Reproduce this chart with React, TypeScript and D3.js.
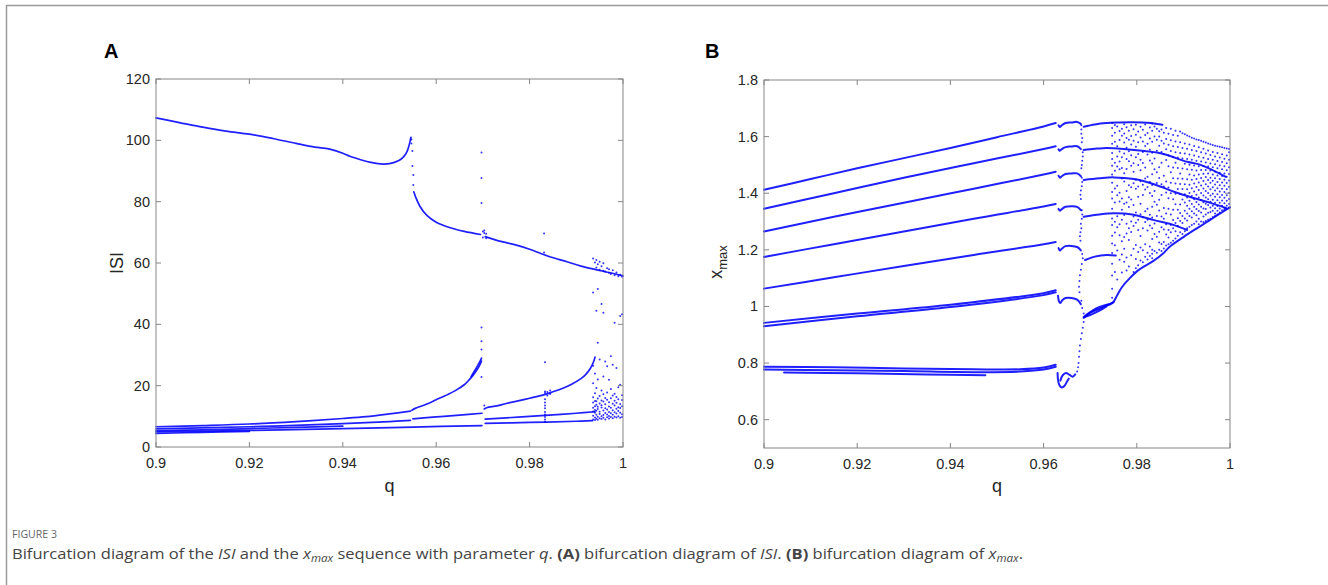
import React from "react";
import * as d3 from "d3";

type P = [number, number];
type Col = [number, number[]];

// ---------- ticks ----------
const qTicks = [0.9, 0.92, 0.94, 0.96, 0.98, 1];
const qTickLabels = ["0.9", "0.92", "0.94", "0.96", "0.98", "1"];
const isiTicks = [0, 20, 40, 60, 80, 100, 120];
const isiTickLabels = ["0", "20", "40", "60", "80", "100", "120"];
const xmaxTicks = [0.6, 0.8, 1, 1.2, 1.4, 1.6, 1.8];
const xmaxTickLabels = ["0.6", "0.8", "1", "1.2", "1.4", "1.6", "1.8"];

// ---------- Panel A : ISI vs q ----------
const isiUpper: P[] = [[0.9, 107.3], [0.905, 105.8], [0.91, 104.3], [0.915, 103.0], [0.92, 102.0], [0.925, 100.6], [0.93, 99.0], [0.934, 97.8], [0.937, 97.2], [0.94, 95.8], [0.9415, 94.8], [0.944, 93.6], [0.946, 92.8], [0.948, 92.3], [0.95, 92.4], [0.952, 93.4], [0.953, 94.6], [0.9538, 96.5], [0.9543, 99.0], [0.9546, 101.0]];
const isiDescent: P[] = [[0.9552, 83.2], [0.9556, 81.5], [0.9565, 78.5], [0.958, 75.5], [0.96, 73.3], [0.963, 71.5], [0.966, 70.3], [0.9695, 69.3]];
const isiDescent2: P[] = [[0.9705, 68.6], [0.973, 67.4], [0.977, 65.9], [0.98, 64.5], [0.984, 62.2], [0.988, 60.4], [0.991, 59.0], [0.994, 57.9], [0.997, 56.9], [1.0, 55.8]];
const isiLow1a: P[] = [[0.9, 6.6], [0.91, 7.0], [0.92, 7.5], [0.93, 8.3], [0.94, 9.3], [0.945, 9.9], [0.95, 10.8], [0.9545, 11.7]];
const isiLow1b: P[] = [[0.9548, 12.0], [0.9555, 12.6], [0.958, 14.0], [0.96, 15.4], [0.962, 16.8], [0.964, 18.3], [0.966, 20.3], [0.967, 21.8], [0.968, 23.6], [0.969, 25.8], [0.9697, 28.0]];
const isiLow1fan: P[] = [[0.9675, 23.0], [0.9685, 25.5], [0.9692, 27.4], [0.9697, 29.0]];
const isiLow1c: P[] = [[0.9703, 12.4], [0.9708, 12.8], [0.973, 13.4], [0.975, 14.2], [0.978, 15.2], [0.98, 15.9], [0.983, 17.0], [0.985, 18.0], [0.987, 19.1], [0.989, 20.5], [0.991, 22.3], [0.992, 23.6], [0.993, 25.6], [0.9937, 27.8], [0.994, 29.3]];
const isiLow2a: P[] = [[0.9, 5.9], [0.92, 6.6], [0.94, 7.6], [0.95, 8.3], [0.9545, 8.7]];
const isiLow2b: P[] = [[0.955, 9.2], [0.96, 9.8], [0.965, 10.4], [0.9698, 11.0]];
const isiLow2c: P[] = [[0.9705, 9.1], [0.975, 9.5], [0.98, 10.0], [0.985, 10.5], [0.99, 11.0], [0.994, 11.5]];
const isiLow3a: P[] = [[0.9, 4.9], [0.92, 5.4], [0.94, 6.0], [0.955, 6.5], [0.9698, 7.0]];
const isiLow3b: P[] = [[0.9705, 7.7], [0.98, 8.0], [0.99, 8.4], [0.9935, 8.6]];
const isiLow4: P[] = [[0.9, 5.3], [0.91, 5.6], [0.92, 6.0], [0.93, 6.4], [0.94, 6.8]];
const isiLow5: P[] = [[0.9, 4.4], [0.91, 4.8], [0.92, 5.1]];
const isiBranches = [isiUpper, isiDescent, isiDescent2, isiLow1a, isiLow1b, isiLow1fan, isiLow1c, isiLow2a, isiLow2b, isiLow2c, isiLow3a, isiLow3b, isiLow4, isiLow5];

const isiDots: Col[] = [
  [0.9547, [100.3, 99.0]],
  [0.9549, [96.5, 91.6]],
  [0.9551, [88.7, 85.4]],
  [0.9697, [96.0, 87.7, 79.6, 39.0, 34.5, 31.8, 22.8]],
  [0.9700, [70.3, 68.3]],
  [0.9703, [69.8, 70.6, 13.5]],
  [0.9707, [68.1, 69.5]],
  [0.9831, [69.6, 63.4]],
  [0.9833, [8.2, 9.0, 9.8, 10.6, 11.4, 12.6, 13.5, 14.5, 15.6, 17.6, 18.1, 27.6]],
  [0.9838, [16.8, 17.9]],
  [0.9844, [17.3, 18.4]],
  [0.9936, [9.0, 10.2, 11.6, 12.8, 14.5, 16.2, 20.8, 26.5, 50.4, 61.5]],
  [0.9940, [8.8, 9.6, 11.2, 12.1, 13.3, 15.0, 17.5, 24.0, 60.2]],
  [0.9943, [9.2, 10.5, 11.8, 13.8, 14.9, 19.2, 44.4, 58.5, 61.0]],
  [0.9946, [8.9, 9.9, 12.4, 13.1, 15.8, 22.0, 34.0, 51.5, 59.6]],
  [0.9950, [9.4, 10.8, 11.5, 14.2, 16.6, 28.5, 57.8, 60.4]],
  [0.9954, [9.1, 10.0, 12.9, 13.6, 15.2, 18.4, 46.6, 58.9]],
  [0.9958, [9.5, 10.4, 11.9, 14.8, 17.2, 23.0, 43.8, 57.5, 59.9]],
  [0.9962, [9.0, 11.1, 12.6, 13.9, 16.0, 27.9, 57.2]],
  [0.9966, [9.7, 10.6, 12.2, 15.4, 17.8, 26.3, 58.3]],
  [0.9970, [9.3, 10.1, 11.4, 13.2, 14.6, 21.9, 56.8, 58.0]],
  [0.9974, [9.8, 11.0, 12.8, 15.9, 18.9, 29.6, 56.4]],
  [0.9978, [9.4, 10.5, 12.0, 14.1, 16.8, 26.8, 57.6]],
  [0.9982, [9.9, 11.3, 13.5, 15.1, 17.4, 40.5, 56.0]],
  [0.9986, [9.6, 10.9, 12.5, 14.4, 16.3, 25.8, 56.9]],
  [0.9990, [10.0, 11.7, 13.0, 15.6, 19.5, 55.7]],
  [0.9994, [9.5, 11.2, 12.7, 14.0, 20.3, 42.7, 56.2]],
  [0.9998, [9.8, 10.7, 13.3, 15.3, 16.9, 43.3, 55.5]],
];

// ---------- Panel B : x_max vs q ----------
const xmaxB1: P[] = [[0.9, 1.412], [0.91, 1.45], [0.92, 1.488], [0.93, 1.524], [0.94, 1.56], [0.95, 1.598], [0.96, 1.636], [0.9626, 1.648]];
const xmaxB2: P[] = [[0.9, 1.345], [0.915, 1.400], [0.93, 1.455], [0.945, 1.506], [0.96, 1.556], [0.9626, 1.566]];
const xmaxB3: P[] = [[0.9, 1.265], [0.915, 1.317], [0.93, 1.366], [0.945, 1.416], [0.96, 1.466], [0.9626, 1.476]];
const xmaxB4: P[] = [[0.9, 1.175], [0.915, 1.220], [0.93, 1.265], [0.945, 1.310], [0.96, 1.353], [0.9626, 1.362]];
const xmaxB5: P[] = [[0.9, 1.063], [0.915, 1.103], [0.93, 1.143], [0.945, 1.182], [0.96, 1.220], [0.9626, 1.228]];
const xmaxB6a: P[] = [[0.9, 0.942], [0.92, 0.975], [0.94, 1.006], [0.96, 1.047], [0.9626, 1.057]];
const xmaxB6b: P[] = [[0.9, 0.930], [0.92, 0.965], [0.94, 0.998], [0.96, 1.040], [0.9626, 1.050]];
const xmaxB7a: P[] = [[0.9, 0.787], [0.915, 0.785], [0.93, 0.781], [0.945, 0.778], [0.955, 0.778], [0.96, 0.784], [0.9626, 0.794]];
const xmaxB7b: P[] = [[0.9, 0.777], [0.915, 0.775], [0.93, 0.772], [0.945, 0.768], [0.955, 0.770], [0.96, 0.777], [0.9626, 0.787]];
const xmaxB7c: P[] = [[0.9043, 0.767], [0.92, 0.764], [0.935, 0.760], [0.9475, 0.757]];
const xmaxHook1: P[] = [[0.9632, 1.640], [0.9635, 1.634], [0.9639, 1.640], [0.9647, 1.648], [0.966, 1.650], [0.9672, 1.652], [0.968, 1.645]];
const xmaxHook2: P[] = [[0.9632, 1.555], [0.9635, 1.550], [0.9639, 1.556], [0.9647, 1.563], [0.966, 1.565], [0.9672, 1.566], [0.968, 1.556]];
const xmaxHook3: P[] = [[0.9632, 1.462], [0.9635, 1.455], [0.9639, 1.460], [0.9647, 1.468], [0.966, 1.470], [0.9672, 1.470], [0.968, 1.460]];
const xmaxHook4: P[] = [[0.9632, 1.345], [0.9635, 1.338], [0.9639, 1.344], [0.9647, 1.352], [0.966, 1.354], [0.9672, 1.352], [0.968, 1.340]];
const xmaxHook5: P[] = [[0.9632, 1.206], [0.9635, 1.198], [0.9639, 1.204], [0.9647, 1.213], [0.966, 1.214], [0.9672, 1.210], [0.968, 1.198]];
const xmaxHook6: P[] = [[0.9631, 1.038], [0.9633, 1.018], [0.9636, 1.012], [0.964, 1.022], [0.9647, 1.030], [0.966, 1.030], [0.9672, 1.024], [0.968, 1.008]];
const xmaxHook7a: P[] = [[0.963, 0.765], [0.9631, 0.740], [0.9634, 0.722], [0.9639, 0.714], [0.9645, 0.720], [0.965, 0.734], [0.9654, 0.745]];
const xmaxHook7b: P[] = [[0.9636, 0.738], [0.9641, 0.757], [0.9648, 0.765], [0.9656, 0.758], [0.9662, 0.752], [0.9668, 0.760]];
const xmaxP1: P[] = [[0.9686, 1.635], [0.971, 1.643], [0.9735, 1.648], [0.976, 1.650], [0.979, 1.651], [0.983, 1.648], [0.9855, 1.642]];
const xmaxP2: P[] = [[0.9686, 1.553], [0.971, 1.557], [0.9735, 1.560], [0.9751, 1.559], [0.9794, 1.553], [0.9851, 1.541], [0.9908, 1.511], [0.9937, 1.500], [0.9991, 1.458]];
const xmaxP3: P[] = [[0.9686, 1.447], [0.972, 1.453], [0.9751, 1.456], [0.9794, 1.450], [0.9837, 1.432], [0.988, 1.405], [0.9922, 1.383], [0.996, 1.365], [0.9991, 1.348]];
const xmaxP4: P[] = [[0.9686, 1.317], [0.972, 1.325], [0.9751, 1.329], [0.979, 1.325], [0.9837, 1.305], [0.9875, 1.290], [0.9908, 1.270]];
const xmaxP5: P[] = [[0.9689, 1.164], [0.971, 1.176], [0.9735, 1.182], [0.9755, 1.180]];
const xmaxLensA: P[] = [[0.9686, 0.960], [0.970, 0.978], [0.972, 0.992], [0.9735, 1.003], [0.975, 1.015]];
const xmaxLensB: P[] = [[0.9686, 0.962], [0.970, 0.970], [0.972, 0.985], [0.9735, 1.000]];
const xmaxLensC: P[] = [[0.9688, 0.965], [0.9705, 0.985], [0.972, 0.998], [0.974, 1.008]];
const xmaxLower: P[] = [[0.9735, 1.003], [0.9748, 1.012], [0.9758, 1.040], [0.9768, 1.068], [0.9785, 1.100], [0.9805, 1.130], [0.9835, 1.160], [0.9855, 1.185], [0.987, 1.210], [0.99, 1.245], [0.9925, 1.272], [0.9955, 1.303], [0.998, 1.330], [1.0, 1.350]];
const xmaxBranches = [xmaxB1, xmaxB2, xmaxB3, xmaxB4, xmaxB5, xmaxB6a, xmaxB6b, xmaxB7a, xmaxB7b, xmaxB7c, xmaxHook1, xmaxHook2, xmaxHook3, xmaxHook4, xmaxHook5, xmaxHook6, xmaxHook7a, xmaxHook7b, xmaxP1, xmaxP2, xmaxP3, xmaxP4, xmaxP5, xmaxLensA, xmaxLensB, xmaxLensC, xmaxLower];

const xmaxDots: Col[] = [
  [0.9681, [1.640, 1.625, 1.610, 1.488, 1.276, 1.020]],
  [0.9682, [1.580, 1.500, 1.455, 1.425, 1.340, 1.310, 1.150, 0.905]],
  [0.9683, [1.595, 1.515, 1.440, 1.325, 1.185, 0.995]],
  [0.9684, [1.545, 1.530, 1.170, 0.925]],
  [0.9680, [1.410, 1.380, 1.292, 1.130, 0.885]],
  [0.9679, [1.395, 1.262, 1.232]],
  [0.9678, [1.248, 1.110, 0.862]],
  [0.9677, [1.090, 1.050, 0.842]],
  [0.9676, [1.070, 0.822]],
  [0.9675, [0.800]],
  [0.9674, [0.785]],
  [0.9672, [0.770]],
  [0.9686, [0.975, 0.945]],
  [0.9687, [0.962]],
  [0.9747, [1.648, 1.630, 1.603, 1.575, 1.542, 1.521, 1.497, 1.466, 1.437, 1.404, 1.381, 1.345, 1.311, 1.288, 1.250, 1.222, 1.189, 1.151, 1.109, 1.063, 1.031]],
  [0.9753, [1.641, 1.614, 1.582, 1.508, 1.479, 1.417, 1.367, 1.299, 1.261, 1.216, 1.122]],
  [0.9758, [1.636, 1.566, 1.530, 1.494, 1.426, 1.393, 1.319, 1.280, 1.198, 1.095]],
  [0.9763, [1.620, 1.588, 1.547, 1.512, 1.485, 1.402, 1.371, 1.290, 1.252, 1.165]],
  [0.9768, [1.628, 1.603, 1.527, 1.489, 1.452, 1.381, 1.342, 1.306, 1.230, 1.184, 1.120]],
  [0.9773, [1.644, 1.611, 1.579, 1.540, 1.471, 1.441, 1.363, 1.323, 1.245, 1.204, 1.158]],
  [0.9778, [1.633, 1.595, 1.561, 1.521, 1.486, 1.408, 1.367, 1.292, 1.258, 1.173, 1.127]],
  [0.9783, [1.621, 1.589, 1.548, 1.513, 1.428, 1.386, 1.351, 1.276, 1.235, 1.141]],
  [0.9788, [1.640, 1.602, 1.572, 1.534, 1.497, 1.421, 1.378, 1.300, 1.263, 1.181]],
  [0.9793, [1.626, 1.585, 1.506, 1.476, 1.435, 1.358, 1.318, 1.284, 1.204, 1.122]],
  [0.9798, [1.642, 1.607, 1.564, 1.527, 1.448, 1.416, 1.332, 1.296, 1.217, 1.168, 1.135]],
  [0.9803, [1.618, 1.580, 1.539, 1.500, 1.424, 1.388, 1.306, 1.270, 1.192, 1.146]],
  [0.9808, [1.635, 1.597, 1.518, 1.481, 1.442, 1.363, 1.326, 1.249, 1.208, 1.162]],
  [0.9813, [1.624, 1.583, 1.546, 1.507, 1.430, 1.394, 1.315, 1.276, 1.199, 1.156]],
  [0.9818, [1.643, 1.606, 1.567, 1.491, 1.452, 1.413, 1.336, 1.298, 1.220, 1.176]],
  [0.9823, [1.613, 1.575, 1.537, 1.458, 1.422, 1.345, 1.306, 1.268, 1.190, 1.166]],
  [0.9828, [1.632, 1.593, 1.554, 1.516, 1.440, 1.401, 1.324, 1.286, 1.212, 1.178]],
  [0.9833, [1.646, 1.621, 1.582, 1.543, 1.505, 1.467, 1.429, 1.390, 1.352, 1.314, 1.276, 1.238, 1.200, 1.186, 1.170]],
  [0.9838, [1.636, 1.600, 1.523, 1.485, 1.408, 1.370, 1.293, 1.256, 1.196]],
  [0.9843, [1.628, 1.589, 1.550, 1.474, 1.436, 1.359, 1.320, 1.246, 1.190]],
  [0.9848, [1.619, 1.600, 1.568, 1.492, 1.454, 1.377, 1.339, 1.264, 1.226, 1.200]],
  [0.9853, [1.625, 1.585, 1.546, 1.508, 1.432, 1.394, 1.318, 1.280, 1.221, 1.196]],
  [0.9858, [1.614, 1.576, 1.538, 1.462, 1.424, 1.348, 1.310, 1.272, 1.228, 1.205]],
  [0.9863, [1.630, 1.592, 1.555, 1.517, 1.441, 1.403, 1.328, 1.290, 1.254, 1.215]],
  [0.9868, [1.610, 1.571, 1.533, 1.495, 1.420, 1.382, 1.345, 1.270, 1.244, 1.220]],
  [0.9873, [1.628, 1.587, 1.549, 1.474, 1.437, 1.400, 1.325, 1.288, 1.262, 1.225]],
  [0.9878, [1.606, 1.566, 1.528, 1.491, 1.453, 1.379, 1.342, 1.305, 1.276, 1.232]],
  [0.9883, [1.621, 1.583, 1.545, 1.508, 1.434, 1.398, 1.361, 1.295, 1.266, 1.240]],
  [0.9888, [1.603, 1.563, 1.526, 1.489, 1.452, 1.415, 1.342, 1.312, 1.284, 1.250]],
  [0.9893, [1.618, 1.580, 1.542, 1.470, 1.433, 1.397, 1.360, 1.330, 1.302, 1.262]],
  [0.9898, [1.612, 1.560, 1.523, 1.487, 1.451, 1.415, 1.378, 1.320, 1.295, 1.256]],
  [0.9903, [1.608, 1.576, 1.540, 1.504, 1.432, 1.396, 1.367, 1.338, 1.311, 1.266]],
  [0.9908, [1.604, 1.557, 1.521, 1.485, 1.449, 1.414, 1.385, 1.356, 1.328, 1.304, 1.276]],
  [0.9913, [1.600, 1.572, 1.537, 1.501, 1.466, 1.430, 1.401, 1.373, 1.345, 1.320, 1.282]],
  [0.9918, [1.596, 1.553, 1.518, 1.483, 1.448, 1.418, 1.390, 1.362, 1.336, 1.314, 1.288]],
  [0.9923, [1.593, 1.567, 1.533, 1.498, 1.463, 1.434, 1.406, 1.379, 1.352, 1.328, 1.292]],
  [0.9928, [1.590, 1.549, 1.515, 1.480, 1.450, 1.422, 1.395, 1.369, 1.344, 1.322, 1.300]],
  [0.9933, [1.588, 1.562, 1.529, 1.495, 1.466, 1.438, 1.411, 1.385, 1.360, 1.337, 1.310, 1.290]],
  [0.9938, [1.585, 1.545, 1.512, 1.482, 1.454, 1.427, 1.401, 1.376, 1.352, 1.332, 1.300]],
  [0.9943, [1.582, 1.557, 1.525, 1.496, 1.469, 1.443, 1.417, 1.392, 1.368, 1.346, 1.318, 1.298]],
  [0.9948, [1.579, 1.540, 1.509, 1.482, 1.457, 1.432, 1.408, 1.385, 1.363, 1.344, 1.325, 1.302]],
  [0.9953, [1.576, 1.551, 1.521, 1.494, 1.470, 1.447, 1.424, 1.401, 1.379, 1.358, 1.331, 1.306]],
  [0.9958, [1.573, 1.535, 1.505, 1.480, 1.455, 1.437, 1.414, 1.392, 1.370, 1.350, 1.334, 1.310]],
  [0.9963, [1.570, 1.546, 1.518, 1.492, 1.466, 1.444, 1.421, 1.398, 1.377, 1.356, 1.338, 1.316]],
  [0.9968, [1.568, 1.530, 1.502, 1.476, 1.453, 1.431, 1.410, 1.388, 1.366, 1.347, 1.328, 1.320]],
  [0.9973, [1.566, 1.542, 1.514, 1.488, 1.463, 1.440, 1.418, 1.396, 1.375, 1.355, 1.338, 1.325]],
  [0.9978, [1.564, 1.526, 1.498, 1.472, 1.450, 1.428, 1.406, 1.386, 1.366, 1.346, 1.332]],
  [0.9983, [1.562, 1.538, 1.510, 1.485, 1.461, 1.438, 1.416, 1.394, 1.374, 1.356, 1.340]],
  [0.9988, [1.560, 1.522, 1.495, 1.470, 1.448, 1.426, 1.404, 1.384, 1.365, 1.348, 1.342]],
  [0.9993, [1.558, 1.533, 1.506, 1.481, 1.458, 1.436, 1.414, 1.393, 1.373, 1.356, 1.346]],
  [0.9998, [1.556, 1.545, 1.518, 1.492, 1.468, 1.445, 1.423, 1.401, 1.380, 1.362, 1.350]],
];

// ---------- layout ----------
const W = 1328, H = 585;
const A = { l: 156, r: 623, t: 79, b: 447 };
const B = { l: 764, r: 1230, t: 80, b: 448 };
const BLUE = "#0000ff";
const AXIS = "#868686";
const TXT = "#262626";
const FONT = "'Liberation Sans', Arial, Helvetica, sans-serif";

const flat = (cols: Col[]): P[] => cols.flatMap(([q, vs]) => vs.map((v) => [q, v] as P));

function Panel(props: {
  box: { l: number; r: number; t: number; b: number };
  yDomain: [number, number];
  yTicks: number[];
  yLabels: string[];
  branches: P[][];
  dots: Col[];
  lw: number;
}) {
  const { box, yDomain, yTicks, yLabels, branches, dots, lw } = props;
  const x = d3.scaleLinear().domain([0.9, 1]).range([box.l, box.r]);
  const y = d3.scaleLinear().domain(yDomain).range([box.b, box.t]);
  const line = d3.line<P>().x((d) => x(d[0])).y((d) => y(d[1])).curve(d3.curveCatmullRom.alpha(0.5));
  const tl = 5;
  return (
    <g>
      <g>
        {branches.map((b, i) => (
          <path key={i} d={line(b) || ""} fill="none" stroke={BLUE} strokeWidth={lw} strokeOpacity={0.88} strokeLinecap="round" />
        ))}
        {flat(dots).map((d, i) => (
          <circle key={i} cx={x(d[0])} cy={y(d[1])} r={1.0} fill={BLUE} fillOpacity={0.8} />
        ))}
      </g>
      <rect x={box.l} y={box.t} width={box.r - box.l} height={box.b - box.t} fill="none" stroke={AXIS} strokeWidth={1} />
      {qTicks.map((t, i) => (
        <g key={"x" + i}>
          <line x1={x(t)} x2={x(t)} y1={box.b} y2={box.b - tl} stroke={AXIS} />
          <line x1={x(t)} x2={x(t)} y1={box.t} y2={box.t + tl} stroke={AXIS} />
          <text x={x(t)} y={box.b + 21} textAnchor="middle" fontSize={14.5} fill={TXT} fontFamily={FONT}>
            {qTickLabels[i]}
          </text>
        </g>
      ))}
      {yTicks.map((t, i) => (
        <g key={"y" + i}>
          <line x1={box.l} x2={box.l + tl} y1={y(t)} y2={y(t)} stroke={AXIS} />
          <line x1={box.r} x2={box.r - tl} y1={y(t)} y2={y(t)} stroke={AXIS} />
          <text x={box.l - 6} y={y(t) + 5} textAnchor="end" fontSize={14.5} fill={TXT} fontFamily={FONT}>
            {yLabels[i]}
          </text>
        </g>
      ))}
    </g>
  );
}

export default function App() {
  const capFont = "'Open Sans', 'Noto Sans', sans-serif";
  return (
    <svg width={W} height={H} viewBox={`0 0 ${W} ${H}`} style={{ position: "absolute", left: 0, top: 0, background: "#fff" }}>
      <rect x={0} y={0} width={W} height={H} fill="#fff" />
      <line x1={6} x2={W + 10} y1={5.5} y2={5.5} stroke="#9a9a9a" strokeWidth={1.5} />
      <line x1={6.5} x2={6.5} y1={5} y2={H + 10} stroke="#9a9a9a" strokeWidth={1.5} />

      <text x={104} y={58} fontSize={20} fontWeight="bold" fontFamily={FONT} fill="#000">A</text>
      <text x={705} y={58} fontSize={20} fontWeight="bold" fontFamily={FONT} fill="#000">B</text>

      <Panel box={A} yDomain={[0, 120]} yTicks={isiTicks} yLabels={isiTickLabels} branches={isiBranches} dots={isiDots} lw={1.7} />
      <Panel box={B} yDomain={[0.5, 1.8]} yTicks={xmaxTicks} yLabels={xmaxTickLabels} branches={xmaxBranches} dots={xmaxDots} lw={2} />

      <text x={(A.l + A.r) / 2} y={492} textAnchor="middle" fontSize={18} fill={TXT} fontFamily={FONT}>q</text>
      <text x={(B.l + B.r) / 2} y={492} textAnchor="middle" fontSize={18} fill={TXT} fontFamily={FONT}>q</text>
      <text transform={`translate(123,263) rotate(-90)`} textAnchor="middle" fontSize={18} fill={TXT} fontFamily={FONT}>ISI</text>
      <text transform={`translate(722,262) rotate(-90)`} textAnchor="middle" fontSize={18} fill={TXT} fontFamily={FONT}>
        x<tspan fontSize={13} dy={5}>max</tspan>
      </text>

      <text x={12} y={538} fontSize={11} fill="#666" fontFamily={capFont} textLength={45} lengthAdjust="spacingAndGlyphs">FIGURE 3</text>
      <text x={12} y={559} fontSize={15} fill="#444" fontFamily={capFont} textLength={1011} lengthAdjust="spacingAndGlyphs">
        Bifurcation diagram of the <tspan fontStyle="italic">ISI</tspan> and the <tspan fontStyle="italic">x</tspan>
        <tspan fontStyle="italic" fontSize={10.5} dy={3}>max</tspan>
        <tspan dy={-3}> sequence with parameter </tspan>
        <tspan fontStyle="italic">q</tspan>. <tspan fontWeight="bold">(A)</tspan> bifurcation diagram of <tspan fontStyle="italic">ISI</tspan>.{" "}
        <tspan fontWeight="bold">(B)</tspan> bifurcation diagram of <tspan fontStyle="italic">x</tspan>
        <tspan fontStyle="italic" fontSize={10.5} dy={3}>max</tspan>
        <tspan dy={-3}>.</tspan>
      </text>
    </svg>
  );
}
